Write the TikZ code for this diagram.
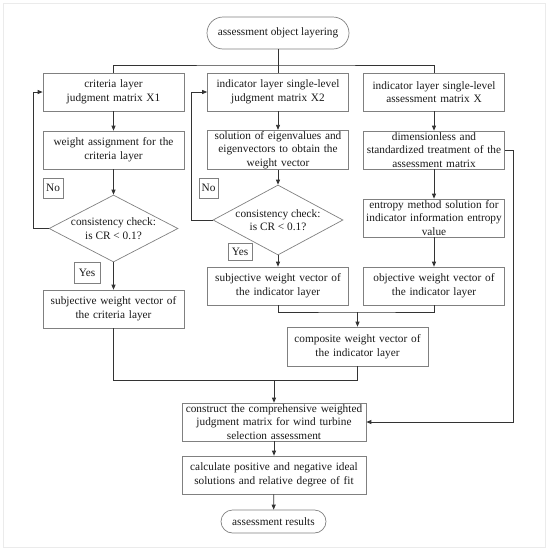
\documentclass[tikz,border=0pt]{standalone}
\usepackage{fontspec}
\setmainfont{Liberation Serif}
\usetikzlibrary{arrows.meta,shapes.geometric}
\begin{document}
\begin{tikzpicture}[x=1pt,y=-1pt,
  every node/.style={font=\fontsize{11.3}{13.6}\selectfont, text=black!90},
  box/.style={draw=black!50, line width=0.7pt, minimum width=141pt, minimum height=38pt, inner sep=1pt, align=center, text width=139pt},
  term/.style={draw=black!50, line width=0.7pt, rounded corners=12pt, inner sep=1pt, align=center},
  lbl/.style={draw=black!50, line width=0.6pt, inner sep=0pt, align=center},
  dia/.style={draw=black!50, line width=0.7pt, diamond, inner sep=0pt},
  conn/.style={draw=black!80, line width=0.8pt},
  arr/.style={conn, -{Triangle[length=5pt,width=4pt]}}
]
\useasboundingbox (0,0) rectangle (550,552);
\draw[black!8, line width=1pt] (3,3) rectangle (545,547);

\node[term, minimum width=142pt, minimum height=32pt, rounded corners=16pt] (start) at (278,33) {assessment object layering};

\node[box] (A1) at (113.5,92) {criteria layer\\judgment matrix X1};
\node[box] (B1) at (278,92) {indicator layer single-level\\judgment matrix X2};
\node[box] (C1) at (434,92) {indicator layer single-level\\assessment matrix X};

\node[box] (A2) at (113.5,150) {weight assignment for the\\criteria layer};
\node[box] (B2) at (278,150) {solution of eigenvalues and\\eigenvectors to obtain the\\weight vector};
\node[box] (C2) at (434,150) {dimensionless and\\standardized treatment of the\\assessment matrix};

\node[lbl, minimum width=20pt, minimum height=20pt] (noA) at (53,188) {No};
\node[lbl, minimum width=19pt, minimum height=20pt] (noB) at (208.5,188) {No};

\node[dia, minimum width=129pt, minimum height=67pt] (dA) at (113.5,228.5) {};
\node[align=center] (dAt) at (dA) {consistency check:\\is CR {\textless} 0.1?};
\node[dia, minimum width=130pt, minimum height=70pt] (dB) at (278,220) {};
\node[align=center] (dBt) at (dB) {consistency check:\\is CR {\textless} 0.1?};

\node[lbl, minimum width=26pt, minimum height=21pt] (yesA) at (87,272.5) {Yes};
\node[lbl, minimum width=24pt, minimum height=17pt] (yesB) at (240,251.5) {Yes};

\node[box] (C3) at (434,218) {entropy method solution for\\indicator information entropy\\value};

\node[box] (A3) at (113.5,309) {subjective weight vector of\\the criteria layer};
\node[box] (B3) at (278,286) {subjective weight vector of\\the indicator layer};
\node[box] (C4) at (434,286) {objective weight vector of\\the indicator layer};

\node[box, minimum height=39pt] (comp) at (357.5,346.5) {composite weight vector of\\the indicator layer};

\node[box, minimum width=184pt, text width=182pt] (D1) at (274,422) {construct the comprehensive weighted\\judgment matrix for wind turbine\\selection assessment};
\node[box, minimum width=184pt, text width=182pt] (D2) at (274,475) {calculate positive and negative ideal\\solutions and relative degree of fit};
\node[term, minimum width=105pt, minimum height=23pt, rounded corners=11.5pt] (end) at (273.5,521.5) {assessment results};

% top distribution
\coordinate (bus) at (278,65);
\draw[conn] (start) -- (B1);
\draw[conn] (A1.north) |- (bus) -| (C1.north);

% left column
\draw[arr] (A1) -- (A2);
\draw[arr] (A2) -- (dA.north);
\draw[arr] (dA.south) -- (A3);
\draw[arr] (dA.west) -- ++(-15,0) |- (A1.west);

% middle column
\draw[arr] (B1) -- (B2);
\draw[arr] (B2) -- (dB.north);
\draw[arr] (dB.south) -- (B3);
\draw[arr] (dB.west) -- ++(-21,0) |- (B1.west);

% right column
\draw[arr] (C1) -- (C2);
\draw[arr] (C2) -- (C3);
\draw[arr] (C3) -- (C4);

% merge
\coordinate (mrg) at (357.5,312);
\draw[conn] (B3.south) |- (mrg) -| (C4.south);
\draw[arr] (mrg) -- (comp);

\coordinate (join) at (274,380);
\draw[conn] (A3.south) |- (join);
\draw[conn] (comp.south) |- (join);
\draw[arr] (join) -- (D1);

\draw[arr] (C2.east) -- ++(9,0) |- (D1.east);

\draw[arr] (D1) -- (D2);
\draw[arr] (D2) -- (end);
\end{tikzpicture}
\end{document}
